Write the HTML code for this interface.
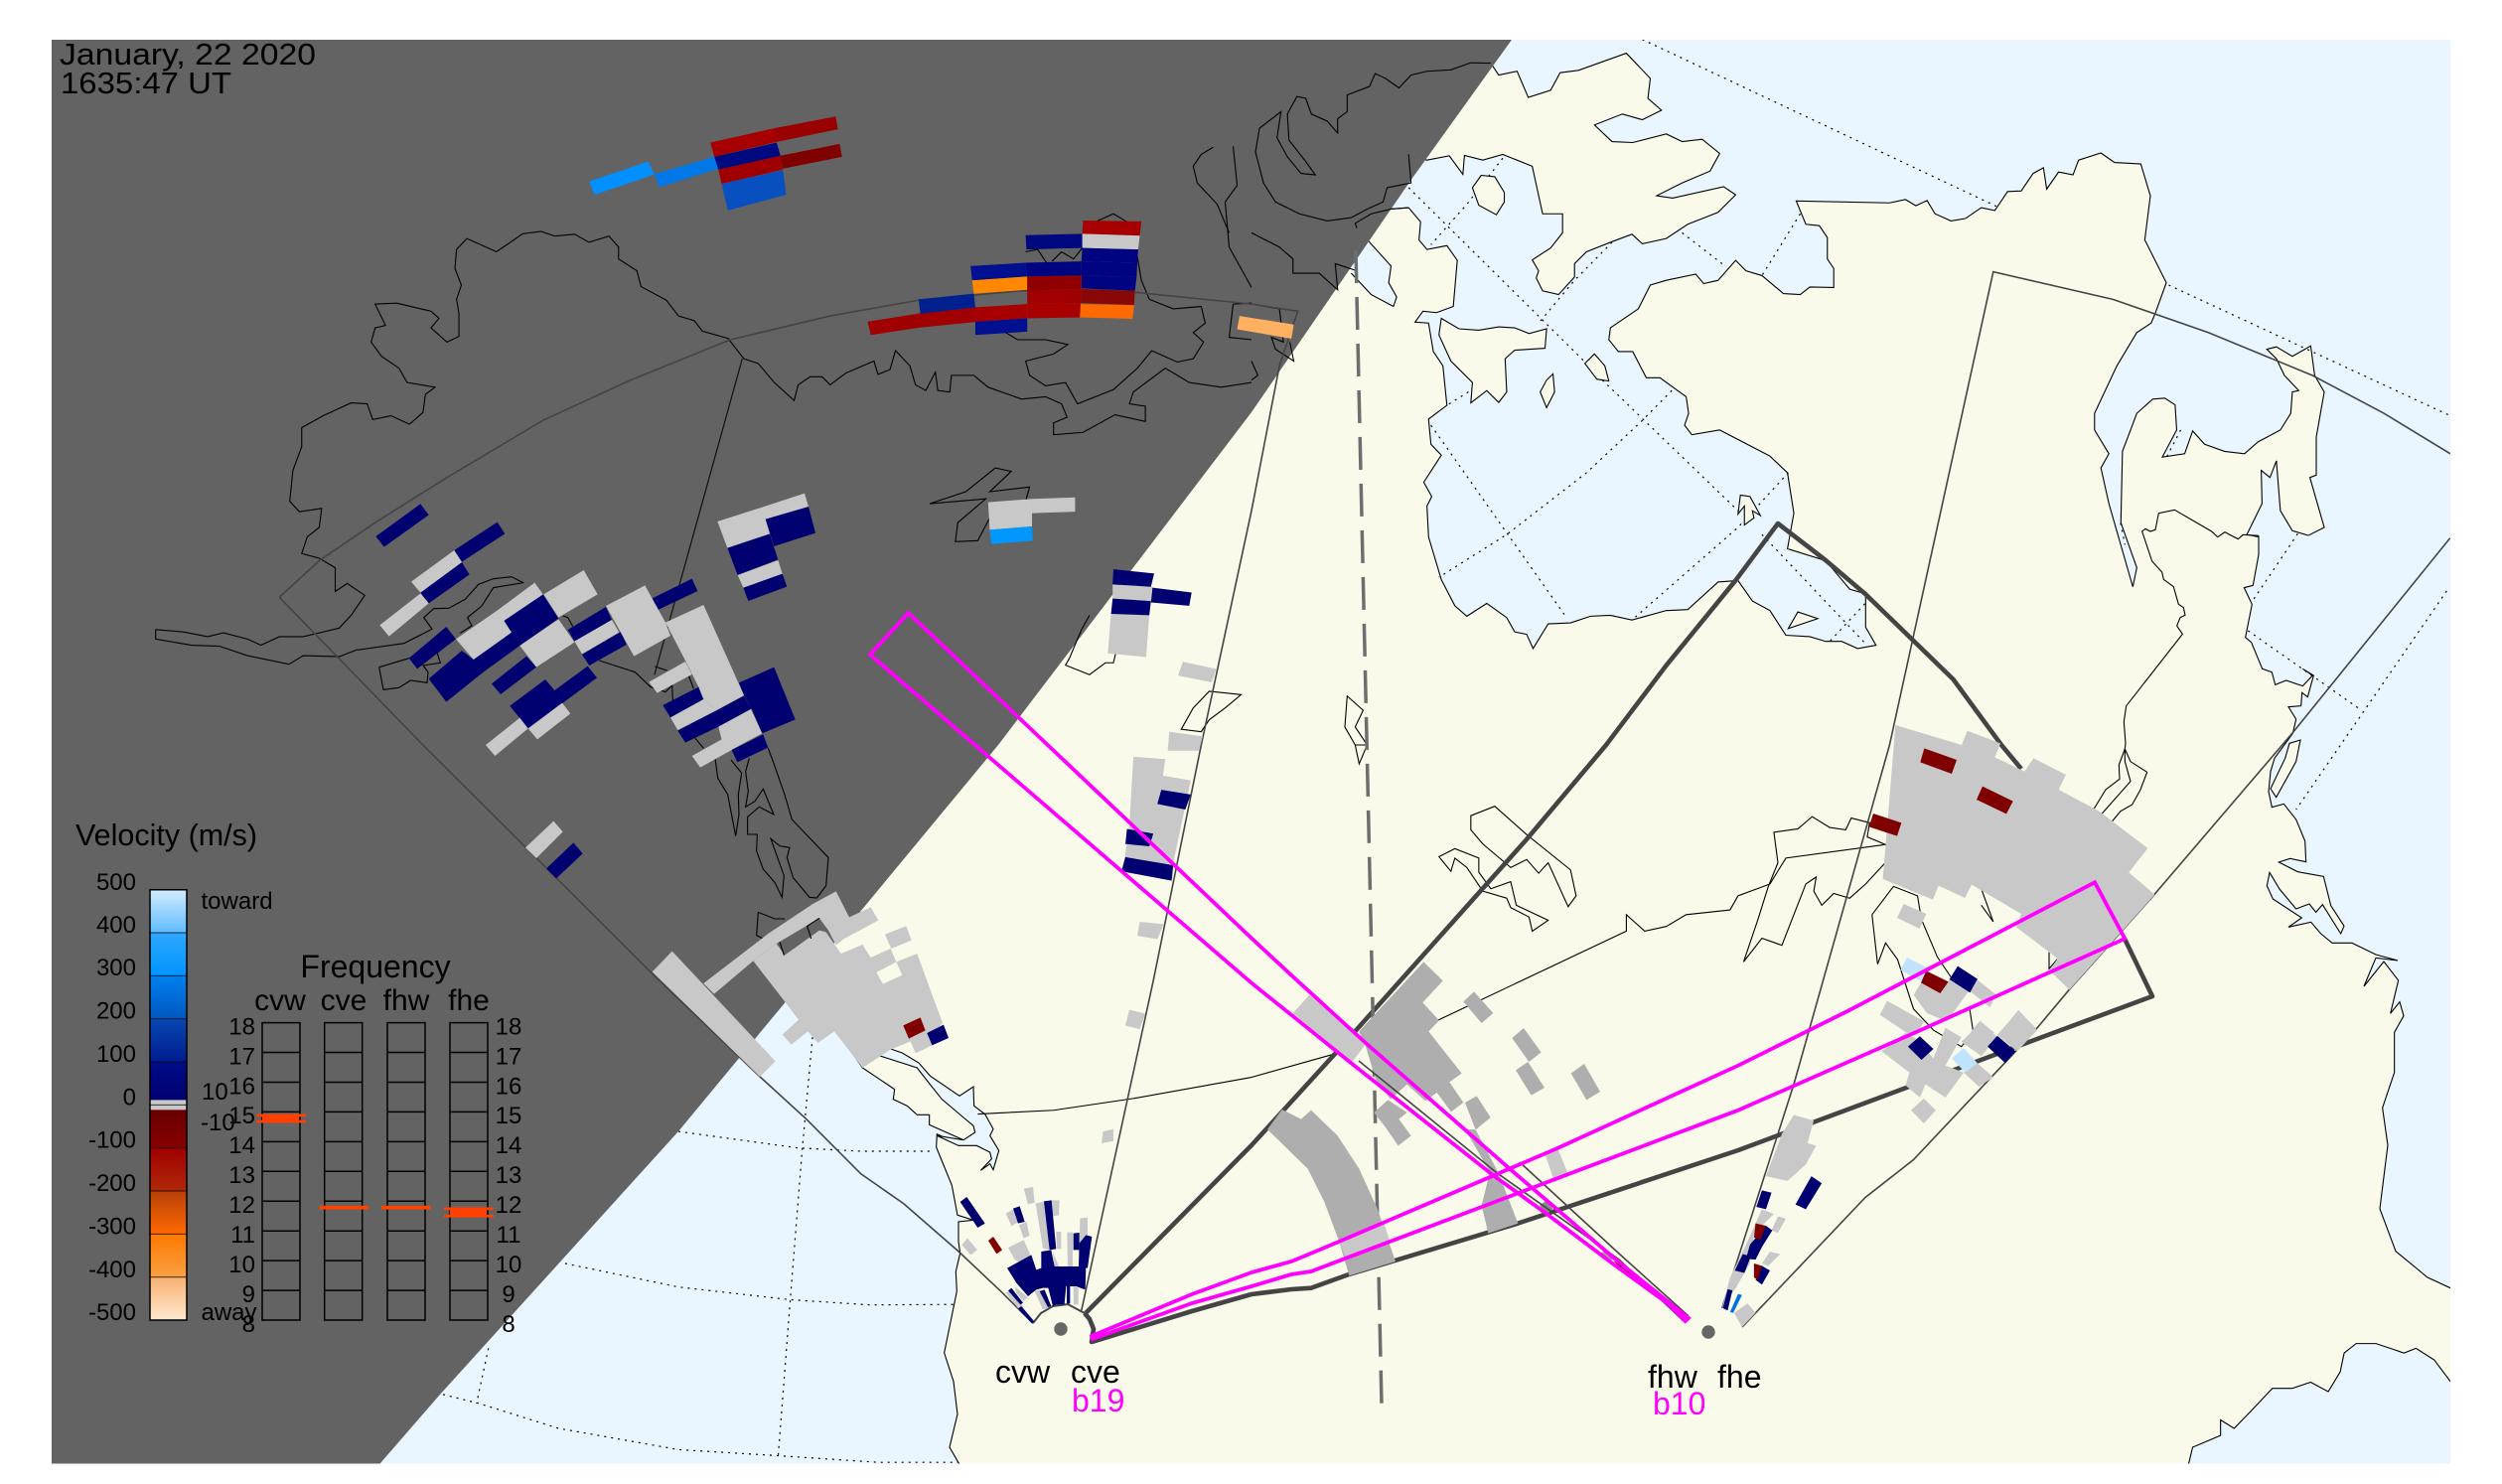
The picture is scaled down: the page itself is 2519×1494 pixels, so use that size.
<!DOCTYPE html>
<html><head><meta charset="utf-8"><style>
html,body{margin:0;padding:0;background:#fff}
svg{display:block}
*{vector-effect:non-scaling-stroke}
text{font-family:"Liberation Sans",sans-serif;fill:#000}
.c{fill:none;stroke:#000;stroke-width:1.1}
.d{fill:none;stroke:#000;stroke-width:1.2;stroke-dasharray:2 5}
.f{fill:none;stroke:#444;stroke-width:1.6}
.l{fill:none;stroke:#444;stroke-width:4.6;stroke-linejoin:round}
.m{fill:none;stroke:#f0f;stroke-width:3.8}
</style></head><body>
<svg xmlns="http://www.w3.org/2000/svg" width="2519" height="1494" viewBox="0 0 2519 1494">
<defs>
<clipPath id="fr"><rect x="52" y="40" width="2415" height="1433.5"/></clipPath>
<linearGradient id="vg" x1="0" y1="0" x2="0" y2="1">
<stop offset="0" stop-color="#d2ecff"/><stop offset=".099" stop-color="#60bcff"/>
<stop offset=".1" stop-color="#30a8ff"/><stop offset=".199" stop-color="#0094ff"/>
<stop offset=".2" stop-color="#0080f0"/><stop offset=".299" stop-color="#0058c0"/>
<stop offset=".3" stop-color="#0848b0"/><stop offset=".4" stop-color="#001c90"/>
<stop offset=".401" stop-color="#000c88"/><stop offset=".488" stop-color="#000070"/>
<stop offset=".489" stop-color="#c8c8c8"/><stop offset=".511" stop-color="#c8c8c8"/>
<stop offset=".512" stop-color="#680000"/><stop offset=".6" stop-color="#880000"/>
<stop offset=".601" stop-color="#a00000"/><stop offset=".699" stop-color="#b02808"/>
<stop offset=".7" stop-color="#b84008"/><stop offset=".799" stop-color="#ff6800"/>
<stop offset=".8" stop-color="#ff7800"/><stop offset=".899" stop-color="#f8a040"/>
<stop offset=".9" stop-color="#f8b070"/><stop offset="1" stop-color="#ffe8d0"/>
</linearGradient>
</defs>
<rect width="2519" height="1494" fill="#fff"/>
<g clip-path="url(#fr)">
<rect x="52" y="40" width="2415" height="1434" fill="#f9faea"/>

<!-- RIGHT HALF base: ocean + land -->
<g transform="translate(1260,0) scale(.803,.47832)">
<polyline fill="#e9f6ff" stroke="#000" stroke-width="1.1" points="1262,1130 1248,1125 1267,1060 1266,990 1277,1005 1285,970 1290,1075 1305,1117 1325,1127 1345,1110 1327,1005 1335,1000 1335,920 1345,825 1333,790 1328,728 1305,750 1285,730 1273,735 1285,755 1295,790 1313,822 1305,825 1303,870 1290,905 1262,930 1245,955 1220,950 1195,935 1180,907 1170,955 1142,962 1160,905 1158,852 1145,838 1130,840 1110,870 1092,950 1090,1100 1110,1195 1105,1235 1075,1060 1065,985 1075,955 1057,905 1057,870 1085,770 1110,700 1128,680 1133,660 1147,595 1120,505 1127,412 1115,345 1082,342 1065,322 1037,337 1030,368 1012,362 997,398 993,353 980,365 965,402 948,403 932,443 915,437 895,460 877,465 857,450 847,422 833,433 820,420 800,427 683,423 695,472 712,475 722,500 722,545 730,565 730,605 700,604 688,620 667,618 640,580 620,570 607,548 585,590 567,597 557,577 520,590 500,600 485,650 450,690 448,715 460,740 478,740 495,795 512,795 545,835 548,870 543,895 552,915 587,905 650,960 672,995 680,1080 672,1155 720,1180 750,1240 770,1250 770,1320 783,1358 760,1365 740,1350 720,1350 700,1340 670,1337 650,1285 628,1265 610,1222 585,1225 547,1283 520,1285 477,1305 450,1295 425,1297 400,1311 372,1313 353,1365 345,1335 330,1330 320,1300 295,1270 270,1297 255,1275 238,1220 222,1130 220,1065 226,1045 216,1015 238,958 225,935 222,882 245,853 240,770 228,740 222,680 205,678 215,655 232,658 253,645 258,548 245,517 220,525 210,505 212,467 197,437 175,440 100,300 100,0 1700,0 1700,1135"/>
<g class="d">
<polyline points="490,83 935,435"/><polyline points="1150,600 1503,875"/>
<polyline points="197,395 420,765"/><polyline points="440,800 610,1075"/><polyline points="640,1125 770,1355"/>
<polyline points="315,333 270,430 225,515"/><polyline points="452,510 405,590 360,680"/>
<polyline points="540,490 590,555"/><polyline points="688,450 640,580"/>
<polyline points="527,822 490,885 420,995 320,1125 235,1215"/>
<polyline points="225,895 290,1050 395,1300"/><polyline points="673,995 610,1110 477,1305"/>
<polyline points="775,1260 725,1350"/><polyline points="272,825 245,853"/>
<polyline points="1165,905 1148,960"/>
<polyline points="172,585 150,610"/>
</g>
<g fill="#f9faea" stroke="#000" stroke-width="1.1">
<polyline points="197,325 220,337 248,328 265,367 267,327 290,337 315,325 352,350 365,450 390,450 390,490 375,522 352,547 360,570 357,585 365,612 385,620 405,583 405,555 420,530 450,510 477,493 490,513 520,502 547,472 585,447 607,410 592,393 528,417 508,412 540,385 575,360 587,323 565,293 540,298 520,282 478,300 452,298 430,263 465,240 490,252 514,232 497,207 500,165 470,112 410,148 387,153 375,190 347,205 333,150 310,158 300,133 275,132 100,200 100,400 200,380"/>
<polygon points="288,369 305,372 317,405 317,425 307,452 285,432 277,395"/>
<polygon points="238,670 260,692 285,695 310,688 330,690 348,702 370,692 368,733 330,737 318,755 320,825 310,847 295,822 275,848 277,805 250,760 235,705"/>
<polygon points="378,787 380,825 370,858 362,825 370,800"/>
<polygon points="430,745 443,770 448,802 433,798 418,765"/>
<polygon points="613,1042 625,1045 638,1085 628,1075 630,1090 618,1105 618,1065 610,1082"/>
<polygon points="685,1288 710,1302 673,1323"/>
</g>
<polyline fill="#e9f6ff" stroke="#000" stroke-width="1.1" points="132,480 175,560 172,595 182,625 178,645 150,620 125,575"/>
<g transform="translate(0,1568) scale(1,.992)">
<polyline fill="#e9f6ff" stroke="#000" stroke-width="1.1" points="1170,1560 1180,1490 1215,1465 1215,1432 1232,1450 1255,1410 1280,1365 1305,1365 1328,1352 1350,1372 1365,1330 1370,1290 1385,1270 1410,1270 1445,1290 1460,1280 1483,1305 1503,1350 1600,1450 1600,1560"/>
</g>
</g>

<!-- east coast, in 3x coordinates from (2050,500) -->
<g transform="translate(2050,500) scale(.33333)">
<polyline fill="#e9f6ff" stroke="#000" stroke-width="1.1" points="672,118 672,175 655,268 628,275 652,325 632,425 650,440 683,520 712,530 722,568 755,555 805,572 835,540 805,520 838,540 820,605 803,592 800,632 762,635 785,672 775,715 720,790 708,830 702,890 712,938 748,928 785,975 812,1040 815,1103 767,1093 733,1104 790,1133 868,1147 890,1235 930,1297 920,1320 865,1232 845,1255 825,1230 785,1245 760,1215 735,1185 705,1135 697,1175 715,1215 802,1272 762,1300 830,1285 860,1320 894,1348 954,1348 1026,1383 1092,1401 1026,1393 990,1479 1050,1404 1094,1461 1070,1561 1098,1526 1110,1568 1082,1618 1082,1739 1046,1846 1062,1959 1038,2151 1086,2279 1182,2358 1251,2390 1400,2400 1400,118"/>
<polygon fill="#f9faea" stroke="#000" stroke-width="1.1" points="765,745 798,735 785,800 725,908 708,882 752,790"/>
<g class="d">
<polyline points="790,112 650,320"/><polyline points="640,405 975,640"/><polyline points="1240,285 785,945"/>
<polyline points="255,80 268,145"/>
</g>
<g class="c">
<polyline points="672,118 625,115 610,128 585,115 570,107 548,122 530,105 418,40 370,50 360,100 345,105 330,97 320,105 350,195 380,228 385,250 415,272 430,325 445,335 450,358 435,365 425,390 442,415 305,590 272,632 265,680 270,745 268,762 250,810 252,853 210,885 175,942"/>
<polyline points="268,762 285,800 335,832 315,885 290,930 255,950 230,980"/>
<polyline points="268,762 268,800 285,860 198,958"/>
</g>
</g>

<!-- SW Pacific in 3x coords from (650,880) -->
<g transform="translate(650,880) scale(.33333)">
<polyline fill="#e9f6ff" stroke="#000" stroke-width="1.1" points="575,470 655,585 752,650 748,680 790,700 820,727 857,727 857,757 960,803 990,795 945,815 880,785 878,825 925,940 942,1030 990,1045 945,1050 945,1110 950,1145 937,1200 940,1260 902,1446 930,1532 942,1631 918,1731 951,1788 951,1850 -2200,1850 -2200,0 300,0"/>
<polyline fill="#e9f6ff" stroke="#000" stroke-width="1.1" points="740,528 775,540 825,570 860,610 948,670 990,642 992,700 1025,725 1050,770 1040,790 1067,835 1050,893 1040,875 1012,895 1045,860 1040,840 1000,820 945,820 880,790 960,803 995,780 990,760 960,735 895,680 855,630 820,585 705,548"/>
</g>
<g transform="scale(.80357,.47832)"><g transform="translate(0,1568) scale(1,.992)">
<g class="d">
<polyline points="850,820 1000,855 1080,862 1170,862"/>
<polyline points="708,1100 850,1150 990,1177 1090,1188 1195,1187"/>
<polyline points="555,1378 600,1397 700,1450 850,1495 975,1508 1100,1522 1200,1522"/>
<polyline points="1018,620 1005,860 990,1180 975,1508"/>
<polyline points="612,1280 597,1397"/>
</g>
</g></g>

<!-- Night -->
<polygon fill="#636363" points="40,30 1529,30 1522,40 1420,182 1260,415 1005,750 683,1139 442,1405 383,1473 370,1490 40,1490"/>

<!-- coast lines LEFT -->
<g transform="scale(.80357,.47832)" class="c">
<polyline points="195,1325 230,1330 260,1340 280,1332 310,1345 327,1358 350,1340 380,1340 425,1322 440,1295 457,1253 435,1228 420,1245 420,1195 400,1175 378,1165 385,1130 400,1110 403,1070 375,1077 363,1055 367,990 378,940 378,900 405,875 440,848 460,850 467,883 490,875 513,893 530,868 533,830 545,815 510,805 500,775 478,750 465,720 470,690 483,685 470,640 497,638 540,655 550,670 540,690 560,720 575,708 575,660 572,630 578,600 570,565 572,525 585,502 622,530 655,492 678,487 695,497 720,493 738,510 763,497 775,520 775,545 798,570 803,603 835,632 850,665 870,675 880,697 912,712 932,755 950,765 970,805 995,843 1000,810 1015,793 1030,793 1040,810 1060,785 1095,760 1100,788 1115,778 1122,738 1140,770 1147,810 1160,822 1172,783 1175,822 1190,825 1192,790 1220,790 1238,815 1280,840 1310,835 1330,850 1337,878 1320,890 1320,915 1357,910 1397,873 1435,887 1435,855 1415,850 1420,825 1460,775 1490,805 1530,815 1568,805"/>
<polyline points="195,1325 195,1345 240,1358 275,1360 310,1380 362,1398 380,1380 425,1382 448,1367"/>
<polyline points="1250,690 1275,715 1310,715 1338,725 1320,745 1285,760 1290,790 1310,812 1335,805 1350,850 1395,820 1425,775 1443,738 1475,762 1495,755 1508,720 1495,700 1510,680 1505,645 1470,650 1440,630 1430,590 1425,540"/>
<polyline points="1312,555 1300,525 1285,530"/><polyline points="1318,550 1330,530 1345,545 1357,520"/>
<polyline points="1375,465 1395,450 1415,470"/>
<polyline points="1545,308 1550,390 1535,425 1540,520 1568,605"/>
<polyline points="1520,310 1505,325 1495,350 1500,385 1525,430 1540,490"/>
<polyline points="1545,640 1568,638"/><polyline points="1545,640 1540,710 1568,715"/>
<polyline points="1165,1060 1210,1035 1247,985 1267,992 1240,1035 1290,1025 1285,1055"/>
<polyline points="1165,1060 1235,1050 1200,1100 1197,1140 1225,1138 1240,1090"/>
<polyline points="1365,1295 1355,1325 1340,1385 1335,1400 1365,1420 1385,1395 1395,1395 1400,1360"/>
<polygon points="1515,1455 1555,1462 1535,1490 1515,1515 1505,1540 1480,1535 1495,1490"/>
<g transform="translate(0,1568) scale(1,.992)">
<polyline points="1225,783 1320,775 1420,750 1568,705"/>
</g>
</g>
<g transform="translate(360,480) scale(.33333)" class="c">
<polyline points="0,523 140,503 225,460 200,425 230,398 275,397 325,370 365,325 410,308 465,302 500,320 410,335 375,390 332,425 345,450 310,472"/>
<polyline points="65,575 155,548"/>
<polyline points="65,575 78,643 125,637 160,615 210,622 213,590 198,570 250,562 240,530"/>
<polyline points="620,420 635,425 650,452"/>
<polyline points="730,555 838,590 885,635 930,650 950,630 952,675"/>
<polyline points="898,573 935,585"/><polyline points="1000,600 1015,640"/><polyline points="1020,790 1045,820"/>
<polyline points="1080,850 1088,910 1118,960 1142,1085 1152,1020 1150,960 1160,895 1128,855"/>
<polyline points="1183,850 1172,890 1180,950 1172,997 1200,980 1225,943 1257,1020 1213,997 1178,1027 1178,1080 1207,1080 1205,1130 1225,1185 1260,1225 1282,1270 1288,1205 1248,1093 1275,1115 1305,1120 1297,1150 1315,1210 1365,1270 1387,1272 1415,1235 1422,1150 1312,1035 1290,960 1255,860 1240,820"/>
<polyline points="1210,1315 1205,1385 1225,1395"/><polyline points="1210,1315 1260,1335 1290,1335"/>
</g>

<!-- coast lines RIGHT -->
<g transform="translate(1260,0) scale(.803,.47832)">
<g class="c">
<polyline points="300,133 275,132 250,147 220,150 200,158 185,185 168,165 155,155 148,182 120,200 120,235 108,250 108,280 95,255 75,240 68,207 57,203 45,240 47,295 68,340 80,368 62,365 45,330 32,290 37,235 10,270 5,320 15,385 30,425 60,450 95,465 125,458 145,440 165,425 170,395 200,385 197,325"/>
<polyline points="132,570 105,555 108,610 85,575 52,575 52,545 35,520 0,490"/>
<polyline points="132,480 130,470 150,450 175,440 197,437"/>
<polyline points="0,640 35,650 40,720 25,710 30,735 53,760 48,720"/>
<polyline points="0,760 8,790 0,800"/>
<polygon points="120,1465 140,1495 130,1530 145,1568 130,1568 117,1530"/>
</g>
<g transform="translate(0,1568) scale(1,.992)" class="c">
<polyline points="145,0 135,40 130,0"/>
<polygon points="275,150 305,130 345,190 400,265 407,320 397,343 372,250 360,272 345,243 325,260 290,210 275,180"/>
<polygon points="235,237 255,220 285,240 285,270 300,305 325,290 332,340 372,372 352,395 348,365 325,345 320,325 290,310 270,260 255,240 250,268"/>
<polygon points="617,460 635,370 648,300 660,250 655,185 685,178 703,152 725,175 745,180 752,155 775,165 772,195 800,215 800,240 770,295 750,325 730,315 715,340 705,310 708,280 695,295 665,425 640,410"/>
<polyline points="778,360 785,465 795,420 810,455 830,560 855,605 890,640 905,610 900,555"/>
<polyline points="778,360 805,300 835,320 840,370 860,450 880,500"/>
<polyline points="915,305 930,375 915,340"/>
<polyline points="1000,440 1000,475 1010,455"/>
<polyline points="0,705 105,655 235,583 470,395 470,360 493,395 520,385 545,360 600,350 610,320 650,295 670,240 800,210"/>
</g>
</g>

<!-- FOV thin lines -->
<g transform="scale(.80357,.47832)" class="f">
<polyline points="350,1257 400,1180 470,1100 560,1005 680,885 790,800 915,715 1040,665 1150,632 1280,612 1420,615 1568,640 1626,655 1603,770 1568,1075 1505,1568 1445,2064 1355,2758"/>
<polyline points="350,1257 530,1568 820,2054 952,2266 1010,2355 1078.5,2470.5 1132,2533 1201,2634 1254,2718 1294,2785"/>
<polyline stroke="#111" style="stroke-width:1.2" points="930,755 820,1420"/>
</g>
<g transform="translate(1260,0) scale(.803,.47832)" class="f">
<polyline points="1503,955 1420,870 1330,790 1200,700 1080,630 930,572 800,1568 680,2282 590,2753"/>
</g>
<polyline class="f" points="2466.7,541.7 2308,738 2168,901.7 2083,996.7 2046.7,1040 1926.5,1167.5 1878,1205.5 1754,1336"/>

<!-- thick lines, dashed -->
<polyline class="l" points="2035,774 2015,750 1966.6,684 1878,598 1838,564 1790,527 1748,583.5 1677.5,670 1617,750 1537,845 1344,1061 1260,1153 1093,1322"/>
<polyline class="l" points="1092,1322 1097,1328 1101,1338 1099,1351 1200,1320 1260,1303 1300,1298 1320,1296.7 1358,1283 1527,1232 1750,1158 2067,1040 2167,1003 2139,945"/>
<polyline class="f" style="stroke-width:2" points="1040,1332 1048,1322 1060,1315 1075,1313 1092,1322"/>
<line x1="1365" y1="252" x2="1391" y2="1414" stroke="#6e6e6e" stroke-width="3.5" stroke-dasharray="33 14"/>

<!-- DATA left north -->
<g transform="scale(.80357,.47832)">
<polygon fill="#0090ff" points="738,382 812,340 820,367 745,410"/>
<polygon fill="#0078e8" points="820,366 895,330 900,355 826,394"/>
<polygon fill="#a80000" points="890,300 970,270 975,298 895,330"/>
<polygon fill="#9a0000" points="970,270 1047,245 1050,272 975,298"/>
<polygon fill="#000a80" points="895,330 973,300 978,328 900,357"/>
<polygon fill="#a00000" points="900,357 977,328 981,357 904,387"/>
<polygon fill="#800000" points="977,328 1052,303 1055,330 981,355"/>
<polygon fill="#0850c0" points="904,387 981,358 985,410 912,443"/>

<polygon fill="#a00000" points="1087,677 1150,660 1222,647 1225,677 1150,690 1091,705"/>
<polygon fill="#002090" points="1151,630 1220,618 1222,647 1153,660"/>
<polygon fill="#001090" points="1216,560 1285,553 1287,582 1218,590"/>
<polygon fill="#ff8800" points="1218,590 1287,582 1287,610 1220,618"/>
<polygon fill="#a80000" points="1220,647 1287,640 1287,670 1222,677"/>
<polygon fill="#001090" points="1222,677 1287,670 1287,698 1222,705"/>
<polygon fill="#000880" points="1285,495 1356,492 1356,522 1286,525"/>
<polygon fill="#a80000" points="1357,464 1430,466 1428,496 1356,492"/>
<polygon fill="#c8c8c8" points="1356,492 1428,496 1426,525 1356,522"/>
<g fill="#000480">
<polygon points="1356,522 1426,525 1425,553 1355,550"/>
<polygon points="1285,553 1355,550 1355,580 1287,582"/>
<polygon points="1355,550 1425,553 1424,583 1355,580"/>
<polygon points="1355,580 1424,583 1422,612 1355,607"/>
</g>
<polygon fill="#900000" points="1287,582 1355,580 1355,608 1287,612"/>
<polygon fill="#a00000" points="1287,612 1355,608 1354,638 1287,640"/>
<polygon fill="#880808" points="1355,608 1422,612 1421,642 1354,638"/>
<polygon fill="#a80000" points="1287,640 1354,638 1353,668 1287,670"/>
<polygon fill="#ff6a00" points="1354,640 1421,642 1419,671 1353,668"/>
<polygon fill="#ffb060" points="1553,665 1621,683 1618,713 1550,693"/>

<polygon fill="#c8c8c8" points="1238,1057 1293,1050 1293,1108 1240,1115"/>
<polygon fill="#c8c8c8" points="1293,1050 1347,1047 1347,1077 1293,1080"/>
<polygon fill="#0098ff" points="1240,1115 1293,1108 1294,1138 1242,1145"/>

<g fill="#c8c8c8">
<polygon points="1465,1540 1507,1550 1502,1580 1463,1580"/>
<polygon points="1392,1290 1440,1293 1436,1383 1388,1375"/>
<polygon points="1394,1230 1444,1235 1442,1265 1394,1262"/>
<polygon points="1482,1393 1524,1408 1518,1436 1476,1422"/>
</g>
<g fill="#000070">
<polygon points="1395,1198 1446,1207 1442,1235 1394,1230"/>
<polygon points="1394,1260 1442,1265 1440,1295 1392,1292"/>
<polygon points="1444,1237 1493,1247 1490,1275 1442,1268"/>
</g>
<g transform="translate(0,1568) scale(1,.992)">
<g fill="#c8c8c8">
<polygon points="1428,375 1458,380 1450,412 1425,405"/>
<polygon points="1415,562 1435,570 1428,603 1410,595"/>
<polygon points="1382,820 1395,815 1395,840 1380,845"/>
<polygon points="1420,25 1460,30 1457,65 1492,75 1480,170 1470,250 1407,265 1415,170"/>
</g>
<g fill="#000070">
<polygon points="1455,95 1492,105 1485,137 1450,125"/>
<polygon points="1412,178 1445,188 1440,215 1410,210"/>
<polygon points="1410,238 1470,255 1468,288 1405,268"/>
</g>
</g>
</g>

<!-- data cluster, 3x coords from (360,480) -->
<g transform="translate(360,480) scale(.33333)">
<g fill="#000070">
<polygon points="55,180 190,82 215,115 80,212"/>
<polygon points="292,222 422,137 445,172 315,257"/>
<polygon points="190,350 315,258 338,295 215,382"/>
<polygon points="155,548 268,453 297,490 180,580"/>
<polygon points="442,435 560,355 607,428 490,510 465,470"/>
<polygon points="350,552 465,470 490,510 380,590 268,680 215,610 315,525"/>
<polygon points="405,625 510,542 540,575 432,657"/>
<polygon points="460,692 567,612 595,645 695,572 723,607 515,760"/>
<polygon points="635,462 750,393 768,432 655,497"/>
<polygon points="678,537 795,468 812,507 700,570"/>
<polygon points="890,367 1010,308 1027,345 905,403"/>
<polygon points="1232,128 1362,90 1383,170 1258,210"/>
<polygon points="1117,215 1245,172 1270,250 1148,297"/>
<polygon points="1165,335 1283,293 1297,332 1180,375"/>
<polygon points="1152,622 1258,575 1322,733 1222,775 1190,700 1167,660"/>
<polygon points="967,767 1085,705 1167,662 1190,700 1090,755 990,803"/>
<polygon points="922,690 1030,635 1045,672 945,727"/>
<polygon points="1130,825 1225,778 1240,818 1147,862"/>
<polygon points="570,1183 652,1105 680,1138 600,1213"/>
</g>
<g fill="#c8c8c8">
<polygon points="1087,135 1222,92 1350,50 1362,90 1232,128 1245,172 1117,215"/>
<polygon points="1148,297 1270,252 1283,293 1165,335"/>
<polygon points="162,317 292,222 315,258 190,350"/>
<polygon points="67,448 190,352 215,382 95,482"/>
<polygon points="297,490 420,405 535,320 560,355 442,435 465,470 350,552"/>
<polygon points="562,355 683,282 725,355 607,425"/>
<polygon points="490,510 607,430 655,500 540,575"/>
<polygon points="387,810 490,728 515,760 415,843"/>
<polygon points="515,760 618,683 643,715 543,793"/>
<polygon points="655,497 768,432 790,470 678,535"/>
<polygon points="750,390 868,328 930,440 945,480 835,542"/>
<polygon points="930,440 1045,387 1167,660 1085,705 1045,672 1030,635 990,555"/>
<polygon points="880,620 990,558 1010,597 905,653"/>
<polygon points="945,727 1045,672 1085,705 967,765"/>
<polygon points="1090,755 1188,702 1222,775 1110,835"/>
<polygon points="1010,843 1105,790 1130,825 1035,878"/>
<polygon points="507,1120 592,1040 620,1072 540,1152"/>
</g>
</g>

<!-- data near 650,880 -->
<g transform="translate(650,880) scale(.33333)">
<g fill="#c8c8c8">
<polygon points="20,295 80,233 392,565 345,612"/>
<polygon points="175,330 370,180 505,90 575,52 615,130 680,100 703,140 600,195 575,215 552,170 525,133 395,210 325,262 207,362"/>
<polygon points="325,262 395,210 420,245 525,170 545,175 590,240 655,213 680,252 740,225 757,265 820,240 897,450 815,540 800,505 740,530 655,585 570,475 520,510 490,475 440,515 413,485 462,440 428,395"/>
<polygon points="723,182 787,157 803,200 742,225"/>
</g>
<polygon fill="#f9faea" points="697,297 757,265 775,305 717,332"/>
<polygon fill="#800000" points="778,457 830,433 845,472 795,497"/>
<polygon fill="#000070" points="850,480 900,455 915,495 865,517"/>
<polygon fill="#c8c8c8" points="800,505 845,475 865,517 818,540"/>
<polyline class="c" points="525,133 488,157 500,195"/>
<polyline class="c" points="405,205 418,245"/>
</g>

<!-- near-radar cvw/cve fan -->
<g transform="translate(940,1180) scale(.33333)">
<g fill="#c8c8c8">
<polygon points="85,220 102,200 132,235 112,250"/>
<polygon points="272,50 300,45 305,92 285,97"/>
<polygon points="218,125 245,110 257,150 235,163"/>
<polygon points="258,160 280,150 290,192 272,200"/>
<polygon points="308,95 335,88 355,175 348,235 330,230"/>
<polygon points="356,85 380,85 378,130 360,133"/>
<polygon points="370,180 385,180 385,232 372,232"/>
<polygon points="225,228 272,205 290,245 300,290 245,265"/>
<polygon points="403,182 420,182 420,285 405,285"/>
<polygon points="442,140 465,137 465,190 440,235"/>
<polygon points="360,240 378,285 365,285"/>
<polygon points="245,345 285,378 270,390 250,365"/>
<polygon points="218,365 232,355 270,405 258,415"/>
<polygon points="305,360 320,355 345,410 330,415"/>
<polygon points="422,345 437,350 437,400 423,400"/>
</g>
<g fill="#000070">
<polygon points="80,90 100,75 155,155 133,168"/>
<polygon points="240,110 260,103 275,150 255,155"/>
<polygon points="333,88 356,85 370,232 350,235"/>
<polygon points="222,290 295,250 310,295 325,290 325,240 355,235 365,285 380,285 460,285 458,355 430,345 400,345 395,400 365,400 350,350 330,350 310,355 285,375 250,335"/>
<polygon points="440,215 460,190 478,195 465,290 438,285"/>
<polygon points="422,185 440,183 440,235 422,235"/>
<polygon points="225,358 235,350 270,395 262,400"/>
<polygon points="255,412 265,405 303,450 298,458"/>
<polygon points="320,360 335,355 355,405 345,408"/>
<polygon points="345,345 355,345 370,400 360,405"/>
<polygon points="402,342 412,345 412,397 402,397"/>
</g>
<polygon fill="#800000" points="165,207 180,195 207,235 190,247"/>
</g>
<ellipse cx="1068" cy="1338" rx="6.7" ry="6.7" fill="#666"/>
<ellipse cx="1720" cy="1341" rx="6.7" ry="6.7" fill="#666"/>

<!-- DATA right: upper block (3x from 1860,700) -->
<g transform="translate(1860,700) scale(.33333)">
<polygon fill="#c8c8c8" points="145,90 345,150 362,107 462,145 445,187 535,230 562,190 660,240 638,285 760,350 907,462 850,535 928,602 670,890 610,830 635,795 510,700 525,660 375,572 355,612 275,575 258,617 107,555"/>
<g fill="#800000">
<polygon points="232,160 330,195 315,237 220,202"/>
<polygon points="408,275 500,320 480,358 390,315"/>
<polygon points="78,357 163,385 150,425 65,397"/>
</g>
<polygon fill="#c8c8c8" points="170,630 238,660 218,705 150,672"/>
<polygon fill="#c0e4ff" points="180,792 245,825 225,865 160,830"/>
<g fill="#c8c8c8">
<polygon points="393,860 450,905 430,942 372,895"/>
<polygon points="215,880 222,868 280,900 308,858 365,895 300,985 240,960 200,905"/>
<polygon points="120,923 232,985 210,1020 180,1020 98,965"/>
<polygon points="400,983 445,1020 370,1020"/>
<polygon points="515,952 570,1005 560,1020 460,1020"/>
</g>
<polygon fill="#800000" points="238,832 305,865 280,900 222,868"/>
<polygon fill="#000070" points="333,818 393,857 370,898 308,858"/>
</g>

<g transform="translate(1260,0) scale(.803,.47832)">
<g transform="translate(0,1568) scale(1,.992)">
<g fill="#c8c8c8">
<polygon points="790,650 820,610 835,625 855,665 870,600 890,620 870,680 893,695 870,748 845,720 838,748 820,722 825,695"/>
<polygon points="915,588 935,620 915,660 890,630"/>
<polygon points="962,563 985,605 960,650 935,615"/>
<polygon points="893,695 910,675 930,705 912,725"/>
<polygon points="843,750 858,775 843,803 827,775"/>
<polygon points="680,785 705,797 697,845 708,850 695,890 672,925 645,915 665,825"/>
<polygon points="640,985 655,995 640,1020 630,1040 625,1100 608,1150 590,1195 600,1130 620,1060"/>
<polygon points="660,1000 670,1005 660,1035 652,1030"/>
<polygon points="650,1075 663,1080 648,1105 640,1100"/>
<polygon points="622,1185 632,1205 615,1235 605,1205"/>
</g>
<polygon fill="#c0e4ff" points="893,643 910,675 895,695 878,665"/>
<g fill="#000070">
<polygon points="838,618 855,645 840,668 823,640"/>
<polygon points="935,617 958,650 945,675 923,640"/>
<polygon points="702,915 715,930 695,985 682,975"/>
<polygon points="640,945 652,950 645,985 633,980"/>
<polygon points="645,1020 653,1030 640,1065 632,1092 620,1090 625,1060"/>
<polygon points="616,1080 626,1085 618,1120 606,1115"/>
<polygon points="640,1105 650,1115 640,1145 632,1135"/>
<polygon points="597,1155 603,1157 597,1200 591,1195"/>
</g>
<polygon fill="#800000" points="632,1015 645,1020 638,1050 630,1045"/>
<polygon fill="#800000" points="630,1100 640,1105 635,1135 630,1130"/>
<polygon fill="#0070e0" points="610,1165 615,1167 604,1205 600,1203"/>
</g>
</g>

<!-- central grey, 3x from (1300,950) -->
<g transform="translate(1300,950) scale(.33333)">
<g fill="#aeaeae">
<polygon points="400,55 458,112 397,178 447,232 415,265 515,392 478,418 520,480 483,508 440,450 405,475 350,425 300,470 255,410 225,310 205,265"/>
<polygon points="250,510 292,472 350,510 325,530 362,580 323,610 285,555"/>
<polygon points="525,480 560,460 602,525 557,562"/>
<polygon points="520,175 552,145 610,210 575,240"/>
<polygon points="667,285 702,255 755,328 718,357"/>
<polygon points="678,382 715,357 765,435 725,458"/>
<polygon points="845,392 885,363 933,447 892,472"/>
<polygon points="525,560 557,562 625,690 685,845 595,875 575,790 600,690"/>
<polygon points="-28,501 30,530 60,503 140,580 205,680 260,800 315,960 175,1003 145,900 100,780 50,680 -72,561"/>
</g>
<g fill="#c8c8c8">
<polygon points="5,210 55,155 228,300 180,362"/>
<polygon points="765,630 805,618 838,700 795,720"/>
<polygon points="145,900 280,845 300,905 165,950"/>
</g>
<polygon fill="#888" points="750,790 768,778 790,800 770,820"/>
<polygon fill="#a0a0a0" points="935,935 950,925 975,950 960,962"/>
<polygon fill="#800000" points="975,960 990,955 1058,1015 1050,1030"/>
<polygon fill="#c8c8c8" points="1140,1095 1155,1095 1195,1130 1185,1140"/>
</g>

<!-- magenta beams -->
<polyline class="f" points="1368,1068 1506,1180 1630,1268 1695,1330"/>
<polyline class="f" points="1530,1170 1630,1262 1700,1325"/>
<polygon class="m" points="914.5,617 1260,944.5 1300,981.7 1375,1050 1520,1176.7 1626.7,1268 1700,1327 1696.7,1330 1680,1313 1623,1271.7 1556.7,1221.7 1503,1183 1360,1070 1300,1021.7 1260,989.6 876,659"/>
<polygon class="m" points="1099,1345 1200,1303 1260,1281 1300,1270 1320,1261.7 1348,1250 1568,1156 1750,1072.7 1860,1018 2109,888.3 2139.3,945 1927,1040 1750,1117.7 1580,1181.7 1355,1266.7 1320,1280 1300,1283 1260,1295 1200,1312 1100,1348"/>

<!-- legend -->
<rect x="151" y="895.7" width="37" height="433.3" fill="url(#vg)" stroke="#000" stroke-width="1.5"/>
<g stroke="#000" stroke-width="1" opacity=".75">
<line x1="151" x2="188" y1="939" y2="939"/><line x1="151" x2="188" y1="982.4" y2="982.4"/>
<line x1="151" x2="188" y1="1025.7" y2="1025.7"/><line x1="151" x2="188" y1="1069" y2="1069"/>
<line x1="151" x2="188" y1="1112.4" y2="1112.4"/><line x1="151" x2="188" y1="1155.7" y2="1155.7"/>
<line x1="151" x2="188" y1="1199" y2="1199"/><line x1="151" x2="188" y1="1242.4" y2="1242.4"/>
<line x1="151" x2="188" y1="1285.7" y2="1285.7"/>
</g>
<g fill="none" stroke="#000" stroke-width="1.5">
<rect x="264" y="1029.6" width="38" height="299.4"/><rect x="326.7" y="1029.6" width="38" height="299.4"/><rect x="390" y="1029.6" width="38" height="299.4"/><rect x="453" y="1029.6" width="38" height="299.4"/>
<path d="M264 1059.5h38M264 1089.5h38M264 1119.4h38M264 1149.4h38M264 1179.3h38M264 1209.2h38M264 1239.2h38M264 1269.1h38M264 1299.1h38
M326.7 1059.5h38M326.7 1089.5h38M326.7 1119.4h38M326.7 1149.4h38M326.7 1179.3h38M326.7 1209.2h38M326.7 1239.2h38M326.7 1269.1h38M326.7 1299.1h38
M390 1059.5h38M390 1089.5h38M390 1119.4h38M390 1149.4h38M390 1179.3h38M390 1209.2h38M390 1239.2h38M390 1269.1h38M390 1299.1h38
M453 1059.5h38M453 1089.5h38M453 1119.4h38M453 1149.4h38M453 1179.3h38M453 1209.2h38M453 1239.2h38M453 1269.1h38M453 1299.1h38"/>
</g>
<g fill="#ff4000">
<rect x="264" y="1121.5" width="37" height="8.9"/><rect x="258" y="1121.5" width="50" height="2.7"/><rect x="258" y="1127.7" width="50" height="2.7"/>
<rect x="321.7" y="1213.8" width="49.5" height="3.8"/><rect x="384" y="1213.8" width="49.5" height="3.8"/>
<rect x="453" y="1215.5" width="37" height="10.1"/><rect x="447" y="1215.5" width="50" height="2.7"/><rect x="447" y="1222.9" width="50" height="2.7"/>
</g>
</g>

<!-- text -->
<text x="60" y="65" font-size="31" textLength="258" lengthAdjust="spacingAndGlyphs">January, 22 2020</text>
<text x="61" y="94" font-size="31" textLength="172" lengthAdjust="spacingAndGlyphs">1635:47 UT</text>
<text x="76" y="851" font-size="30.5">Velocity (m/s)</text>
<g font-size="24" text-anchor="end">
<text x="137" y="896">500</text><text x="137" y="939">400</text><text x="137" y="982">300</text><text x="137" y="1025.5">200</text><text x="137" y="1069">100</text><text x="137" y="1112.4">0</text><text x="137" y="1155.7">-100</text><text x="137" y="1199">-200</text><text x="137" y="1242.6">-300</text><text x="137" y="1286">-400</text><text x="137" y="1329">-500</text>
</g>
<text x="202.5" y="915" font-size="24">toward</text>
<text x="202.5" y="1329" font-size="24">away</text>
<text x="203" y="1107" font-size="24">10</text>
<text x="202" y="1138" font-size="24">-10</text>
<text x="378" y="984" font-size="32" text-anchor="middle">Frequency</text>
<g font-size="30" text-anchor="middle">
<text x="282" y="1017">cvw</text><text x="346" y="1017">cve</text><text x="409" y="1017">fhw</text><text x="472" y="1017">fhe</text>
</g>
<g font-size="24" text-anchor="end">
<text x="257" y="1041.4">18</text><text x="257" y="1071.3">17</text><text x="257" y="1101.3">16</text><text x="257" y="1131.2">15</text><text x="257" y="1161.2">14</text><text x="257" y="1191.1">13</text><text x="257" y="1221">12</text><text x="257" y="1251">11</text><text x="257" y="1280.9">10</text><text x="257" y="1310.9">9</text><text x="257" y="1340.8">8</text>
</g>
<g font-size="24" text-anchor="middle">
<text x="512" y="1041.4">18</text><text x="512" y="1071.3">17</text><text x="512" y="1101.3">16</text><text x="512" y="1131.2">15</text><text x="512" y="1161.2">14</text><text x="512" y="1191.1">13</text><text x="512" y="1221">12</text><text x="512" y="1251">11</text><text x="512" y="1280.9">10</text><text x="512" y="1310.9">9</text><text x="512" y="1340.8">8</text>
</g>
<g font-size="32">
<text x="1002" y="1392">cvw</text><text x="1078" y="1392">cve</text>
<text x="1079" y="1421" style="fill:#f0f">b19</text>
<text x="1659" y="1397">fhw</text><text x="1729" y="1397">fhe</text>
<text x="1664" y="1424" style="fill:#f0f">b10</text>
</g>
</svg>
</body></html>
